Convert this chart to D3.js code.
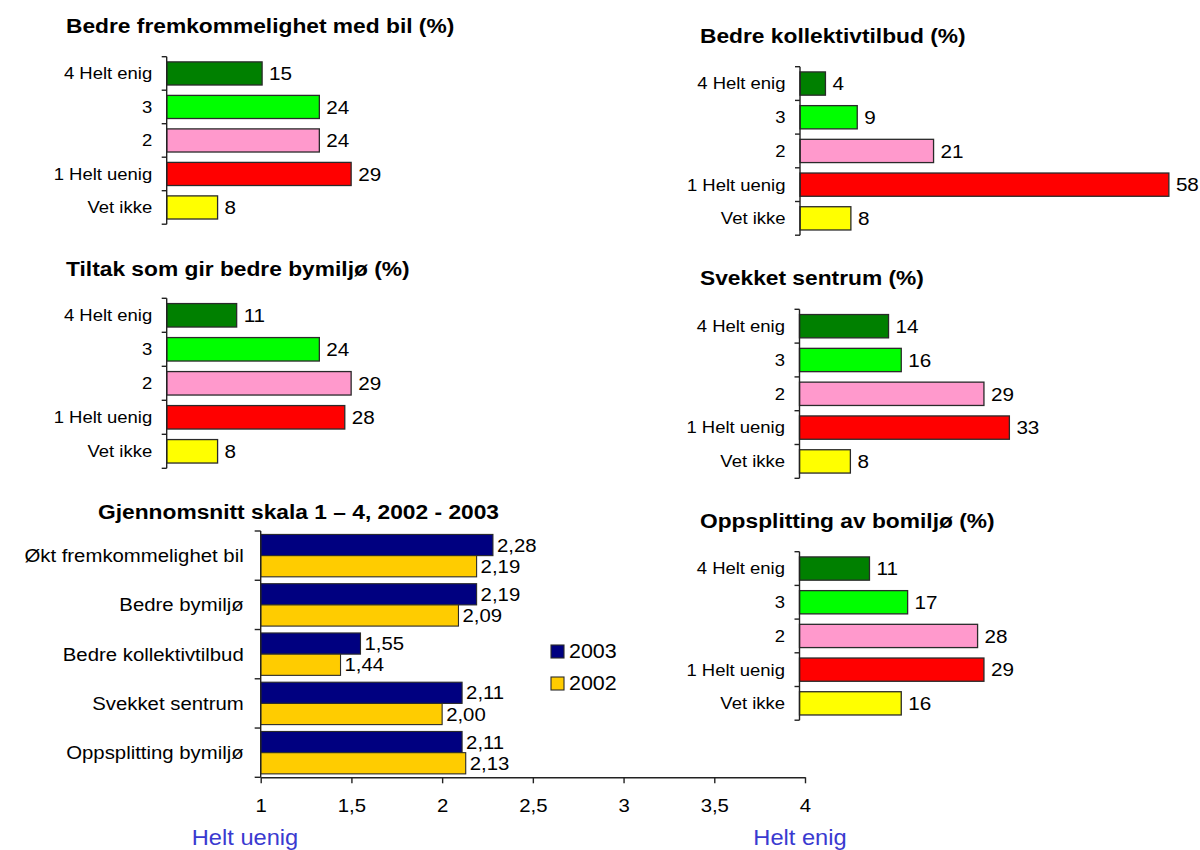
<!DOCTYPE html>
<html>
<head>
<meta charset="utf-8">
<script src="https://cdn.jsdelivr.net/npm/d3@7"></script>
<style>
  html, body { margin: 0; padding: 0; background: #fff; }
  svg { display: block; font-family: "Liberation Sans", Arial, sans-serif; }
</style>
</head>
<body>
<svg id="chart" width="1200" height="850"></svg>
<script>
// ---- data ----
const responseCats = ["4 Helt enig", "3", "2", "1 Helt uenig", "Vet ikke"];
const bilValues = [15, 24, 24, 29, 8];
const bymiljoValues = [11, 24, 29, 28, 8];
const kollektivValues = [4, 9, 21, 58, 8];
const sentrumValues = [14, 16, 29, 33, 8];
const bomiljoValues = [11, 17, 28, 29, 16];

const meanCats = ["Økt fremkommelighet bil", "Bedre bymiljø", "Bedre kollektivtilbud", "Svekket sentrum", "Oppsplitting bymiljø"];
const mean2003 = [2.28, 2.19, 1.55, 2.11, 2.11];
const mean2002 = [2.19, 2.09, 1.44, 2.00, 2.13];
const meanTicks = [1, 1.5, 2, 2.5, 3, 3.5, 4];
const years = ["2003", "2002"];

// ---- styles ----
const responseColors = ["#008000", "#00ff00", "#ff99cc", "#ff0000", "#ffff00"];
const yearColors = ["#000080", "#ffcc00"];
const SX = 1.1; // horizontal text stretch
const locale = d3.formatLocale({ decimal: ",", thousands: " ", grouping: [3], currency: ["", " kr"] });
const fmt2 = locale.format(".2f");
const fmtTick = v => locale.format("~g")(v);

const svg = d3.select("#chart");

function place(sel, x, y) {
  return sel.attr("transform", `translate(${x},${y}) scale(${SX},1)`);
}

// shared value scale for the percentage panels
const pctPerUnit = 6.36;

function responsePanel(title, values, L) {
  const g = svg.append("g");
  const y = d3.scaleBand().domain(responseCats).range([L.top, L.top + L.step * responseCats.length]).padding(0);
  const x = d3.scaleLinear().domain([0, 58]).range([L.ax, L.ax + 58 * pctPerUnit]);
  const bh = y.bandwidth() * 0.69;

  place(g.append("text"), L.titleX, L.titleY)
    .attr("font-size", 20.7).attr("font-weight", "bold").attr("fill", "#000")
    .text(title);

  g.selectAll("rect.bar").data(values).join("rect")
    .attr("class", "bar")
    .attr("x", x(0))
    .attr("y", (d, i) => y(responseCats[i]) + (y.bandwidth() - bh) / 2)
    .attr("width", d => x(d) - x(0))
    .attr("height", bh)
    .attr("fill", (d, i) => responseColors[i])
    .attr("stroke", "#2a2a2a").attr("stroke-width", 1.3);

  // axis line and boundary ticks
  const [y0, y1] = y.range();
  g.append("line").attr("x1", L.ax).attr("x2", L.ax).attr("y1", y0).attr("y2", y1)
    .attr("stroke", "#222").attr("stroke-width", 1.4);
  const bounds = responseCats.map(c => y(c)).concat([y1]);
  g.selectAll("line.tick").data(bounds).join("line")
    .attr("class", "tick")
    .attr("x1", L.ax - 5).attr("x2", L.ax).attr("y1", d => d).attr("y2", d => d)
    .attr("stroke", "#222").attr("stroke-width", 1.4);

  g.selectAll("text.cat").data(responseCats).join("text")
    .attr("class", "cat")
    .each(function (d) { place(d3.select(this), L.ax - 14.5, y(d) + y.bandwidth() / 2); })
    .attr("text-anchor", "end").attr("dy", "0.35em")
    .attr("font-size", 16.8).attr("fill", "#000")
    .text(d => d);

  g.selectAll("text.val").data(values).join("text")
    .attr("class", "val")
    .each(function (d, i) { place(d3.select(this), x(d) + 7, y(responseCats[i]) + y.bandwidth() / 2); })
    .attr("dy", "0.36em")
    .attr("font-size", 18.8).attr("fill", "#000")
    .text(d => d);
}

responsePanel("Bedre fremkommelighet med bil (%)", bilValues, { ax: 166.7, top: 56.7, step: 33.5, titleX: 66, titleY: 32.5 });
responsePanel("Tiltak som gir bedre bymiljø (%)", bymiljoValues, { ax: 166.7, top: 298.3, step: 34, titleX: 66, titleY: 276 });
responsePanel("Bedre kollektivtilbud (%)", kollektivValues, { ax: 800, top: 66.7, step: 33.7, titleX: 700, titleY: 42.5 });
responsePanel("Svekket sentrum (%)", sentrumValues, { ax: 799.5, top: 309.3, step: 33.8, titleX: 700, titleY: 285 });
responsePanel("Oppsplitting av bomiljø (%)", bomiljoValues, { ax: 799.5, top: 551.7, step: 33.7, titleX: 700, titleY: 528 });

// ---- mean score chart ----
(function meanChart() {
  const g = svg.append("g");
  const x = d3.scaleLinear().domain([1, 4]).range([260.7, 805]);
  const y = d3.scaleBand().domain(meanCats).range([531, 777.3]).padding(0);
  const bh = 21.2;
  const series = [mean2003, mean2002];

  place(g.append("text"), 98, 518.5)
    .attr("font-size", 20.7).attr("font-weight", "bold").attr("fill", "#000")
    .text("Gjennomsnitt skala 1 – 4, 2002 - 2003");

  series.forEach((vals, s) => {
    const rowY = (i) => y(meanCats[i]) + y.bandwidth() / 2 + (s === 0 ? -bh : 0);
    g.selectAll(`rect.s${s}`).data(vals).join("rect")
      .attr("class", `s${s}`)
      .attr("x", x(1))
      .attr("y", (d, i) => rowY(i))
      .attr("width", d => x(d) - x(1))
      .attr("height", bh)
      .attr("fill", yearColors[s])
      .attr("stroke", "#2a2a2a").attr("stroke-width", 1.1);
    g.selectAll(`text.v${s}`).data(vals).join("text")
      .attr("class", `v${s}`)
      .each(function (d, i) { place(d3.select(this), x(d) + 4, rowY(i) + bh / 2); })
      .attr("dy", "0.36em")
      .attr("font-size", 18.5).attr("fill", "#000")
      .text(d => fmt2(d));
  });

  // category axis on the left
  const [y0, y1] = y.range();
  g.append("line").attr("x1", x(1)).attr("x2", x(1)).attr("y1", y0).attr("y2", y1)
    .attr("stroke", "#222").attr("stroke-width", 1.4);
  const bounds = meanCats.map(c => y(c)).concat([y1]);
  g.selectAll("line.ctick").data(bounds).join("line")
    .attr("class", "ctick")
    .attr("x1", x(1) - 6).attr("x2", x(1)).attr("y1", d => d).attr("y2", d => d)
    .attr("stroke", "#222").attr("stroke-width", 1.4);
  g.selectAll("text.mcat").data(meanCats).join("text")
    .attr("class", "mcat")
    .each(function (d) { place(d3.select(this), x(1) - 17, y(d) + y.bandwidth() / 2); })
    .attr("text-anchor", "end").attr("dy", "0.35em")
    .attr("font-size", 18.5).attr("fill", "#000")
    .text(d => d);

  // value axis at the bottom
  const ax = g.append("g").attr("transform", `translate(0,${y1})`)
    .call(d3.axisBottom(x).tickValues(meanTicks).tickFormat(fmtTick).tickSize(6).tickSizeOuter(0));
  ax.select(".domain").attr("stroke", "#222").attr("stroke-width", 1.4);
  ax.selectAll(".tick line").attr("stroke", "#222").attr("stroke-width", 1.4);
  ax.selectAll(".tick text")
    .attr("font-size", 18.5).attr("font-family", "Liberation Sans, Arial, sans-serif").attr("fill", "#000")
    .attr("y", 0).attr("dy", 0)
    .attr("transform", `translate(0,35) scale(${SX},1)`);

  place(g.append("text"), 245, 845).attr("text-anchor", "middle")
    .attr("font-size", 21.5).attr("fill", "#3a3ad0").text("Helt uenig");
  place(g.append("text"), 800, 845).attr("text-anchor", "middle")
    .attr("font-size", 21.5).attr("fill", "#3a3ad0").text("Helt enig");

  // legend
  const lg = g.append("g");
  years.forEach((yr, i) => {
    const ly = 645 + i * 32;
    lg.append("rect").attr("x", 551).attr("y", ly).attr("width", 13).attr("height", 13)
      .attr("fill", yearColors[i]).attr("stroke", "#2a2a2a").attr("stroke-width", 1.1);
    place(lg.append("text"), 569, ly + 13)
      .attr("font-size", 19.5).attr("fill", "#000").text(yr);
  });
})();
</script>
</body>
</html>
